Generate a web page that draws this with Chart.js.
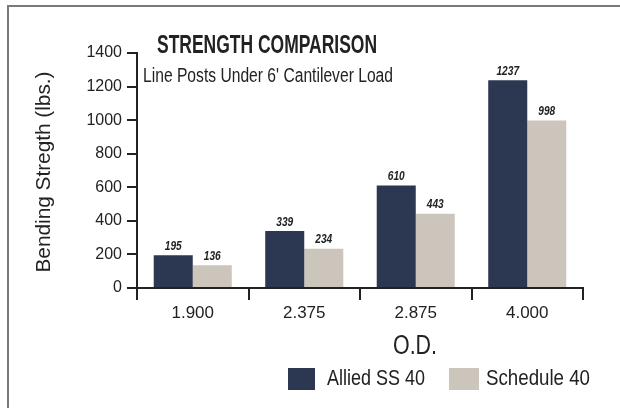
<!DOCTYPE html>
<html><head><meta charset="utf-8">
<script src="https://cdn.jsdelivr.net/npm/chart.js@4"></script>
<style>html,body{margin:0;padding:0;background:#fff}canvas{display:block}</style>
</head><body>
<canvas id="c" width="620" height="408"></canvas>
<script>
const categories = ['1.900', '2.375', '2.875', '4.000'];
const alliedSS40 = [195, 339, 610, 1237];
const schedule40 = [136, 234, 443, 998];
const yTicks = [0, 200, 400, 600, 800, 1000, 1200, 1400];
const seriesNames = ['Allied SS 40', 'Schedule 40'];

const FONT = "'Liberation Sans', Arial, sans-serif";
const DARK = '#2c3751', LIGHT = '#cbc5bc', INK = '#222222';

// draw text horizontally condensed to a target width
function fitText(ctx, text, x, y, width, align) {
  const w = ctx.measureText(text).width;
  const s = width / w;
  ctx.save();
  ctx.translate(x, y);
  ctx.scale(s, 1);
  ctx.textAlign = align;
  ctx.fillText(text, 0, 0);
  ctx.restore();
}

const deco = {
  id: 'deco',
  afterDraw(chart) {
    const ctx = chart.ctx;
    ctx.save();
    ctx.strokeStyle = '#7a7a7a'; ctx.lineWidth = 2;
    ctx.beginPath(); ctx.moveTo(8, 408); ctx.lineTo(8, 6); ctx.lineTo(620, 6); ctx.stroke();
    ctx.fillStyle = INK;
    ctx.textBaseline = 'middle';
    ctx.font = "bold 25px " + FONT; fitText(ctx, 'STRENGTH COMPARISON', 267, 46, 220, 'center');
    ctx.font = "20px " + FONT; fitText(ctx, "Line Posts Under 6' Cantilever Load", 268, 76, 250, 'center');
    ctx.font = "27px " + FONT; fitText(ctx, 'O.D.', 415, 347, 44, 'center');
    ctx.save(); ctx.translate(44, 172); ctx.rotate(-Math.PI / 2);
    ctx.font = "20px " + FONT; fitText(ctx, 'Bending Stregth (lbs.)', 0, 0, 201, 'center'); ctx.restore();
    ctx.font = "italic bold 13px " + FONT;
    chart.data.datasets.forEach((ds, i) => {
      chart.getDatasetMeta(i).data.forEach((bar, j) => {
        const t = String(ds.data[j]);
        fitText(ctx, t, bar.x, bar.y - 9, ctx.measureText(t).width * 0.78, 'center');
      });
    });
    // legend
    const boxes = [[288, 368, 27, 22, 327, 98], [449, 368, 30, 22, 486, 104]];
    ctx.font = "22px " + FONT;
    chart.data.datasets.forEach((ds, i) => {
      const b = boxes[i];
      ctx.fillStyle = ds.backgroundColor; ctx.fillRect(b[0], b[1], b[2], b[3]);
      ctx.fillStyle = INK; fitText(ctx, ds.label, b[4], b[1] + b[3] / 2, b[5], 'left');
    });
    ctx.restore();
  }
};

new Chart(document.getElementById('c'), {
  type: 'bar',
  data: {
    labels: categories,
    datasets: [
      { label: seriesNames[0], data: alliedSS40, backgroundColor: DARK, categoryPercentage: 0.7, barPercentage: 1.0 },
      { label: seriesNames[1], data: schedule40, backgroundColor: LIGHT, categoryPercentage: 0.7, barPercentage: 1.0 }
    ]
  },
  options: {
    responsive: false, devicePixelRatio: 1, animation: false,
    layout: { padding: { left: 0, top: 53, right: 37, bottom: 80 } },
    plugins: { legend: { display: false }, tooltip: { enabled: false } },
    scales: {
      x: {
        grid: { offset: true, drawOnChartArea: false, drawTicks: true, tickLength: 12, color: INK, lineWidth: 2 },
        border: { color: INK, width: 2 },
        ticks: { font: { family: FONT, size: 17 }, color: INK, padding: 3 },
        afterFit(s) { s.height = 40; }
      },
      y: {
        min: 0, max: 1400,
        afterBuildTicks(s) { s.ticks = yTicks.map(v => ({ value: v })); },
        grid: { drawOnChartArea: false, tickLength: 10, color: INK, lineWidth: 2 },
        border: { color: INK, width: 2 },
        ticks: { font: { family: FONT, size: 16 }, color: INK, padding: 5, callback: v => String(v) },
        afterFit(s) { s.width = 137; }
      }
    }
  },
  plugins: [deco]
});
</script>
</body></html>
